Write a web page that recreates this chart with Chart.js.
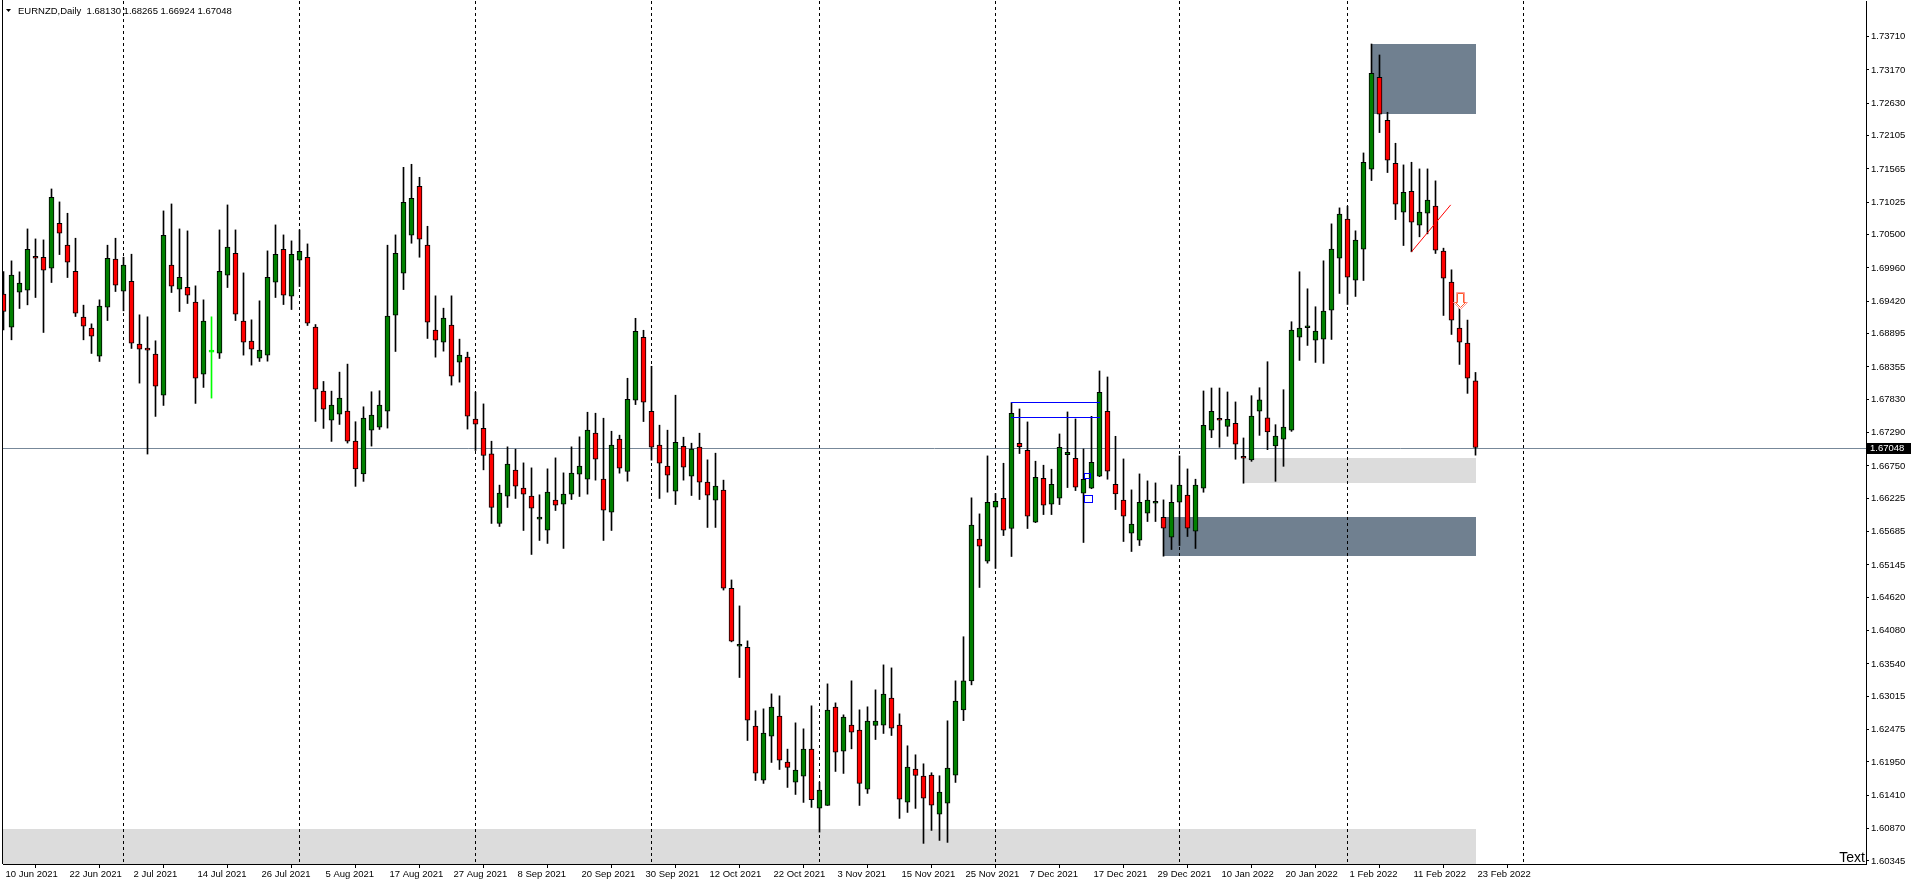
<!DOCTYPE html>
<html>
<head>
<meta charset="utf-8">
<title>EURNZD,Daily</title>
<script src="https://cdn.jsdelivr.net/npm/chart.js@4.4.0/dist/chart.umd.min.js"></script>
<style>
html, body { margin: 0; padding: 0; background: #fff; overflow: hidden; }
#chart { display: block; }
</style>
</head>
<body>
<canvas id="chart" width="1912" height="885"></canvas>
<script>
// EURNZD daily candles, 10 Jun 2021 .. 23 Feb 2022 (one entry per trading day)
const opens = [
 1.69534,1.69000,1.69566,1.69599,1.70149,1.70133,1.69955,1.70684,1.70328,1.69906,
 1.69161,1.68983,1.68530,1.69323,1.70101,1.69582,1.69744,1.68724,1.68659,1.68562,
 1.67898,1.70004,1.69615,1.69647,1.69404,1.68238,1.68594,1.68578,1.69842,1.70198,
 1.69096,1.68772,1.68497,1.68546,1.69728,1.70263,1.69501,1.70085,1.70133,1.68999,
 1.67962,1.67493,1.67590,1.67638,1.67152,1.66618,1.67331,1.67379,1.67638,1.69194,
 1.69874,1.70490,1.71283,1.70328,1.68951,1.68756,1.69032,1.68432,1.68513,1.67509,
 1.67361,1.66945,1.65817,1.66259,1.66681,1.66389,1.66259,1.65887,1.65709,1.66195,
 1.66130,1.66292,1.66616,1.66535,1.67280,1.66535,1.66000,1.67183,1.66659,1.67815,
 1.68835,1.67636,1.67086,1.66746,1.66340,1.67069,1.66584,1.67053,1.66486,1.66195,
 1.66357,1.64766,1.63826,1.63810,1.62530,1.61655,1.62368,1.62693,1.61947,1.61623,
 1.61720,1.62158,1.61202,1.61245,1.62838,1.62125,1.62547,1.62466,1.61510,1.62541,
 1.62547,1.62984,1.62547,1.61299,1.61834,1.61720,1.61737,1.61105,1.61283,1.61737,
 1.62792,1.63262,1.65562,1.65205,1.66080,1.66226,1.65735,1.67117,1.67004,1.65837,
 1.66550,1.66129,1.66226,1.66933,1.66874,1.66307,1.66388,1.66582,1.67635,1.66453,
 1.66194,1.65659,1.65546,1.65983,1.66145,1.65918,1.65594,1.66161,1.66275,1.65691,
 1.66388,1.67328,1.67522,1.67392,1.67441,1.66906,1.66846,1.67639,1.67531,1.67072,
 1.67185,1.67331,1.68838,1.68990,1.68790,1.68806,1.69276,1.70118,1.70750,1.69762,
 1.70264,1.71560,1.73050,1.72354,1.71657,1.70863,1.71203,1.70653,1.70847,1.70961,
 1.70231,1.69729,1.68984,1.68741,1.68130
];
const highs = [
 1.69901,1.70074,1.69896,1.70592,1.70430,1.70414,1.71240,1.71030,1.70846,1.70441,
 1.69356,1.69053,1.69442,1.70328,1.70441,1.70133,1.70182,1.69199,1.69167,1.68778,
 1.70884,1.70997,1.70592,1.70560,1.69669,1.69442,1.69167,1.70576,1.70981,1.70576,
 1.69879,1.69118,1.69426,1.70236,1.70657,1.70495,1.70398,1.70576,1.70349,1.69042,
 1.68119,1.67962,1.68270,1.68400,1.67466,1.67708,1.67952,1.67968,1.70328,1.70495,
 1.71591,1.71640,1.71429,1.70635,1.69507,1.69307,1.69507,1.68805,1.68594,1.67946,
 1.67755,1.67150,1.66438,1.67059,1.67021,1.66799,1.66718,1.66281,1.66702,1.66880,
 1.66637,1.67059,1.67221,1.67620,1.67604,1.67523,1.67312,1.67248,1.68171,1.69143,
 1.68949,1.68365,1.67410,1.67329,1.67896,1.67215,1.67118,1.67280,1.66848,1.66956,
 1.66519,1.64901,1.64480,1.63913,1.62779,1.62811,1.63054,1.63022,1.62158,1.62584,
 1.62487,1.62860,1.61623,1.63216,1.62908,1.62714,1.63265,1.62795,1.62844,1.63119,
 1.63524,1.63475,1.62730,1.62212,1.62066,1.61920,1.61775,1.61726,1.62617,1.63265,
 1.63980,1.66232,1.65972,1.66912,1.66302,1.66793,1.67776,1.67673,1.67463,1.66826,
 1.66761,1.66696,1.67268,1.67625,1.67511,1.67025,1.67554,1.68289,1.68192,1.67230,
 1.66863,1.66361,1.66620,1.66507,1.66474,1.66199,1.66442,1.66912,1.66701,1.66534,
 1.67965,1.68013,1.68013,1.67949,1.67787,1.67203,1.67888,1.68017,1.68439,1.67418,
 1.67985,1.69087,1.69897,1.69621,1.69330,1.70075,1.70674,1.70933,1.70960,1.70561,
 1.71824,1.73590,1.73412,1.72483,1.71981,1.71630,1.71673,1.71565,1.71565,1.71371,
 1.70280,1.69929,1.69421,1.69114,1.68265
];
const lows = [
 1.68956,1.68794,1.69302,1.69361,1.69480,1.68913,1.69723,1.70176,1.69804,1.69172,
 1.68794,1.68573,1.68443,1.69107,1.69577,1.69264,1.68654,1.68092,1.66942,1.67552,
 1.67730,1.69561,1.69253,1.69383,1.67763,1.68022,1.67849,1.68492,1.69642,1.69107,
 1.68546,1.68384,1.68443,1.68448,1.69480,1.69366,1.69285,1.69658,1.69026,1.67471,
 1.67358,1.67147,1.67422,1.67120,1.66418,1.66499,1.67071,1.67341,1.67363,1.68605,
 1.69609,1.70360,1.70133,1.68816,1.68513,1.68610,1.68060,1.68108,1.67347,1.67000,
 1.66686,1.65817,1.65768,1.66076,1.66222,1.65703,1.65314,1.65541,1.65493,1.66027,
 1.65412,1.66205,1.66254,1.66292,1.66519,1.65541,1.65703,1.66632,1.66502,1.67744,
 1.67469,1.66843,1.66222,1.66324,1.66124,1.66519,1.66270,1.66205,1.65752,1.65752,
 1.64737,1.63897,1.63319,1.62298,1.61650,1.61602,1.61942,1.61828,1.61537,1.61423,
 1.61294,1.61213,1.60813,1.61245,1.61796,1.61764,1.62163,1.61245,1.61440,1.62314,
 1.62412,1.62379,1.61035,1.61132,1.61197,1.60630,1.60840,1.60678,1.60646,1.61618,
 1.62620,1.63200,1.64779,1.65173,1.65087,1.65621,1.65281,1.66950,1.65735,1.65830,
 1.65961,1.65961,1.66123,1.66399,1.66350,1.65508,1.66380,1.66575,1.66534,1.66042,
 1.65524,1.65362,1.65459,1.65848,1.65848,1.65286,1.65394,1.65459,1.65605,1.65411,
 1.66323,1.67209,1.67052,1.67230,1.66858,1.66469,1.66824,1.67245,1.67013,1.66500,
 1.66743,1.67310,1.68460,1.68703,1.68428,1.68412,1.68800,1.69546,1.69367,1.69497,
 1.69756,1.71376,1.72154,1.71506,1.70744,1.70323,1.70221,1.70464,1.70512,1.70194,
 1.69189,1.68881,1.68395,1.67926,1.66924
];
const closes = [
 1.69253,1.69842,1.69712,1.70263,1.70117,1.69923,1.71105,1.70522,1.70052,1.69226,
 1.69015,1.68853,1.69339,1.70117,1.69680,1.70004,1.68740,1.68643,1.68627,1.68043,
 1.70490,1.69663,1.69809,1.69518,1.68173,1.69096,1.68594,1.69906,1.70296,1.69210,
 1.68756,1.68643,1.68627,1.69809,1.70182,1.69518,1.70182,1.70230,1.69064,1.67995,
 1.67671,1.67736,1.67849,1.67152,1.66699,1.67525,1.67574,1.67736,1.69177,1.70198,
 1.71024,1.71089,1.70425,1.69080,1.68789,1.69145,1.68206,1.68546,1.67557,1.67428,
 1.66918,1.66076,1.66308,1.66778,1.66421,1.66292,1.66065,1.65919,1.66324,1.66114,
 1.66292,1.66632,1.66746,1.67329,1.66859,1.66033,1.67086,1.66713,1.67831,1.68932,
 1.67782,1.67053,1.66794,1.66600,1.67134,1.66729,1.67021,1.66486,1.66276,1.66421,
 1.64769,1.63907,1.63830,1.62627,1.61769,1.62417,1.62838,1.61980,1.61861,1.61818,
 1.62158,1.61337,1.61494,1.62790,1.62109,1.62676,1.62433,1.61602,1.62611,1.62611,
 1.63049,1.62498,1.61348,1.61866,1.61731,1.61364,1.61251,1.61461,1.61850,1.62935,
 1.63267,1.65789,1.65449,1.66161,1.66177,1.65708,1.67603,1.67063,1.65934,1.66566,
 1.66113,1.66453,1.67052,1.66971,1.66404,1.66534,1.66809,1.67943,1.66663,1.66296,
 1.65934,1.65805,1.66161,1.66194,1.66177,1.65740,1.66161,1.66437,1.65740,1.66437,
 1.67409,1.67635,1.67490,1.67506,1.67101,1.66874,1.67558,1.67823,1.67299,1.67234,
 1.67380,1.68952,1.68984,1.69022,1.68935,1.69259,1.70264,1.70831,1.69810,1.70410,
 1.71673,1.73115,1.72451,1.71706,1.70993,1.71187,1.70701,1.70863,1.71058,1.70248,
 1.69794,1.69114,1.68757,1.68174,1.67048
];

// time labels, one every 8 bars
const dateTicks = [
 '10 Jun 2021','22 Jun 2021','2 Jul 2021','14 Jul 2021','26 Jul 2021','5 Aug 2021',
 '17 Aug 2021','27 Aug 2021','8 Sep 2021','20 Sep 2021','30 Sep 2021','12 Oct 2021',
 '22 Oct 2021','3 Nov 2021','15 Nov 2021','25 Nov 2021','7 Dec 2021','17 Dec 2021',
 '29 Dec 2021','10 Jan 2022','20 Jan 2022','1 Feb 2022','11 Feb 2022','23 Feb 2022'
];
const priceTicks = [
 1.73710,1.73170,1.72630,1.72105,1.71565,1.71025,1.70500,1.69960,1.69420,1.68895,
 1.68355,1.67830,1.67290,1.66750,1.66225,1.65685,1.65145,1.64620,1.64080,1.63540,
 1.63015,1.62475,1.61950,1.61410,1.60870,1.60345
];
const lastPrice = 1.67048;
const headerText = 'EURNZD,Daily  1.68130 1.68265 1.66924 1.67048';

// bars where a new month starts (period separators)
const monthStarts = [15, 37, 59, 81, 102, 124, 147, 168, 190];

// drawn objects: [fromBar, toBar, topPrice, bottomPrice]
const supplyZones = [[171, 184, 1.73590, 1.72462], [145, 184, 1.65924, 1.65292]];
const lightZones = [[155, 184, 1.66880, 1.66465], [-2, 184, 1.60867, 1.60000]];
const blueLevels = [[126, 137, 1.67781], [126, 137, 1.67538]];
const blueBoxes = [[135, 135.75, 1.66631, 1.66550], [135, 136, 1.66275, 1.66161]];
const trendLine = [[176, 1.70221], [180.9, 1.70982]];
const arrowMark = [182, 1.69574];

const FONT = '"Liberation Sans", Arial, sans-serif';
const FONT_SIZE = 9.5;
const bull = '#008000', bear = '#ff0000', doji = '#00ff00';

const bodyFill = opens.map((o, i) => closes[i] > o ? bull : closes[i] < o ? bear : doji);
const bodyLine = opens.map((o, i) => closes[i] === o ? doji : '#000000');

const chartObjects = {
  id: 'chartObjects',
  beforeDatasetsDraw(chart) {
    const { ctx, chartArea: a, scales: { x, y } } = chart;
    ctx.save();
    ctx.beginPath();
    ctx.rect(a.left, a.top, a.right - a.left, a.bottom - a.top);
    ctx.clip();
    const box = (z, col) => {
      const x0 = Math.round(x.getPixelForValue(z[0]));
      const x1 = Math.round(x.getPixelForValue(z[1]));
      const y0 = Math.round(y.getPixelForValue(z[2]));
      const y1 = Math.round(y.getPixelForValue(z[3]));
      ctx.fillStyle = col;
      ctx.fillRect(x0, y0, x1 - x0, y1 - y0);
    };
    lightZones.forEach(z => box(z, '#dcdcdc'));
    supplyZones.forEach(z => box(z, '#708090'));

    // period separators
    ctx.strokeStyle = '#000';
    ctx.lineWidth = 1;
    ctx.setLineDash([3, 3]);
    monthStarts.forEach(b => {
      const px = Math.floor(x.getPixelForValue(b)) + 0.5;
      ctx.beginPath();
      ctx.moveTo(px, a.top);
      ctx.lineTo(px, a.bottom);
      ctx.stroke();
    });
    ctx.setLineDash([]);

    // bid line
    const yb = Math.round(y.getPixelForValue(lastPrice)) + 0.5;
    ctx.strokeStyle = '#778899';
    ctx.beginPath();
    ctx.moveTo(a.left, yb);
    ctx.lineTo(a.right, yb);
    ctx.stroke();
    ctx.restore();
  },
  afterDatasetsDraw(chart) {
    const { ctx, scales: { x, y } } = chart;
    ctx.save();
    ctx.lineWidth = 1;
    ctx.strokeStyle = '#0000ff';
    blueLevels.forEach(l => {
      const yy = Math.round(y.getPixelForValue(l[2])) + 0.5;
      ctx.beginPath();
      ctx.moveTo(Math.round(x.getPixelForValue(l[0])), yy);
      ctx.lineTo(Math.round(x.getPixelForValue(l[1])), yy);
      ctx.stroke();
    });
    blueBoxes.forEach(r => {
      const x0 = Math.round(x.getPixelForValue(r[0])) + 0.5;
      const x1 = Math.round(x.getPixelForValue(r[1])) + 0.5;
      const y0 = Math.round(y.getPixelForValue(r[2])) + 0.5;
      const y1 = Math.round(y.getPixelForValue(r[3])) + 0.5;
      ctx.strokeRect(x0, y0, x1 - x0, y1 - y0);
    });

    ctx.strokeStyle = '#ff0000';
    ctx.beginPath();
    ctx.moveTo(x.getPixelForValue(trendLine[0][0]), y.getPixelForValue(trendLine[0][1]));
    ctx.lineTo(x.getPixelForValue(trendLine[1][0]), y.getPixelForValue(trendLine[1][1]));
    ctx.stroke();

    // down arrow, drawn twice: pale outer edge, orange-red inner edge
    const ax = Math.round(x.getPixelForValue(arrowMark[0])) + 0.5;
    const ay = Math.round(y.getPixelForValue(arrowMark[1])) + 0.5;
    const arrow = (w, hw, h, d) => {
      ctx.beginPath();
      ctx.moveTo(ax - w + d, ay + d);
      ctx.lineTo(ax + w - d, ay + d);
      ctx.lineTo(ax + w - d, ay + 10);
      ctx.lineTo(ax + hw - 2 * d, ay + 10);
      ctx.lineTo(ax, ay + h - 2 * d);
      ctx.lineTo(ax - hw + 2 * d, ay + 10);
      ctx.lineTo(ax - w + d, ay + 10);
      ctx.closePath();
    };
    arrow(4, 7, 17, 0);
    ctx.fillStyle = '#ffffff';
    ctx.fill();
    ctx.strokeStyle = '#ff9a9a';
    ctx.stroke();
    arrow(4, 7, 17, 1);
    ctx.strokeStyle = '#ff5a2a';
    ctx.stroke();
    ctx.restore();
  },
  afterDraw(chart) {
    const { ctx, chartArea: a, scales: { y } } = chart;
    ctx.save();
    // left frame line
    ctx.fillStyle = '#000';
    ctx.fillRect(a.left - 1, 0, 1, a.bottom);

    // header
    ctx.beginPath();
    ctx.moveTo(6, 9);
    ctx.lineTo(11, 9);
    ctx.lineTo(8.5, 12);
    ctx.closePath();
    ctx.fill();
    ctx.font = FONT_SIZE + 'px ' + FONT;
    ctx.textBaseline = 'middle';
    ctx.textAlign = 'left';
    ctx.fillText(headerText, 18, 11);

    // current price label
    const yb = Math.round(y.getPixelForValue(lastPrice));
    ctx.fillStyle = '#000';
    ctx.fillRect(a.right + 1, yb - 5, 44, 11);
    ctx.fillStyle = '#fff';
    ctx.fillText(lastPrice.toFixed(5), a.right + 4, yb + 0.5);

    // text object
    ctx.fillStyle = '#000';
    ctx.font = '14px ' + FONT;
    ctx.textAlign = 'right';
    ctx.textBaseline = 'alphabetic';
    ctx.fillText('Text', a.right - 1, a.bottom - 2);
    ctx.restore();
  }
};

new Chart(document.getElementById('chart'), {
  type: 'bar',
  data: {
    datasets: [
      {
        label: 'body',
        data: opens.map((o, i) => ({ x: i, y: [Math.min(o, closes[i]), Math.max(o, closes[i])] })),
        backgroundColor: bodyFill,
        borderColor: bodyLine,
        borderWidth: 1,
        borderSkipped: false,
        barThickness: 5,
        minBarLength: 2,
        grouped: false,
        order: 0
      },
      {
        label: 'wick',
        data: lows.map((l, i) => ({ x: i, y: [l, highs[i]] })),
        backgroundColor: bodyLine,
        borderWidth: 0,
        barThickness: 1,
        grouped: false,
        order: 1
      }
    ]
  },
  options: {
    responsive: false,
    animation: false,
    events: [],
    devicePixelRatio: 1,
    layout: { padding: { left: 3, top: 1, right: 0, bottom: 0 } },
    plugins: { legend: { display: false }, tooltip: { enabled: false } },
    scales: {
      x: {
        type: 'linear',
        min: -0.0625,
        max: 232.8125,
        offset: false,
        afterBuildTicks: s => { s.ticks = dateTicks.map((d, k) => ({ value: k * 8 })); },
        afterFit: s => { s.height = 21; s.paddingLeft = 0; s.paddingRight = 0; },
        ticks: {
          autoSkip: false, maxRotation: 0, minRotation: 0,
          align: 'start', labelOffset: 2, padding: 1,
          color: '#000', font: { family: FONT, size: FONT_SIZE },
          callback: v => dateTicks[Math.round(v / 8)]
        },
        grid: { drawOnChartArea: false, drawTicks: true, tickLength: 4, color: '#000' },
        border: { display: true, color: '#000', width: 1 }
      },
      y: {
        type: 'linear',
        position: 'right',
        min: 1.602956,
        max: 1.742872,
        afterBuildTicks: s => { s.ticks = priceTicks.map(v => ({ value: v })); },
        afterFit: s => { s.width = 46; s.paddingTop = 0; s.paddingBottom = 0; },
        ticks: {
          autoSkip: false, padding: 2,
          color: '#000', font: { family: FONT, size: FONT_SIZE },
          callback: v => v.toFixed(5)
        },
        grid: { drawOnChartArea: false, drawTicks: true, tickLength: 3, color: '#000' },
        border: { display: true, color: '#000', width: 1 }
      }
    }
  },
  plugins: [chartObjects]
});
</script>
</body>
</html>
